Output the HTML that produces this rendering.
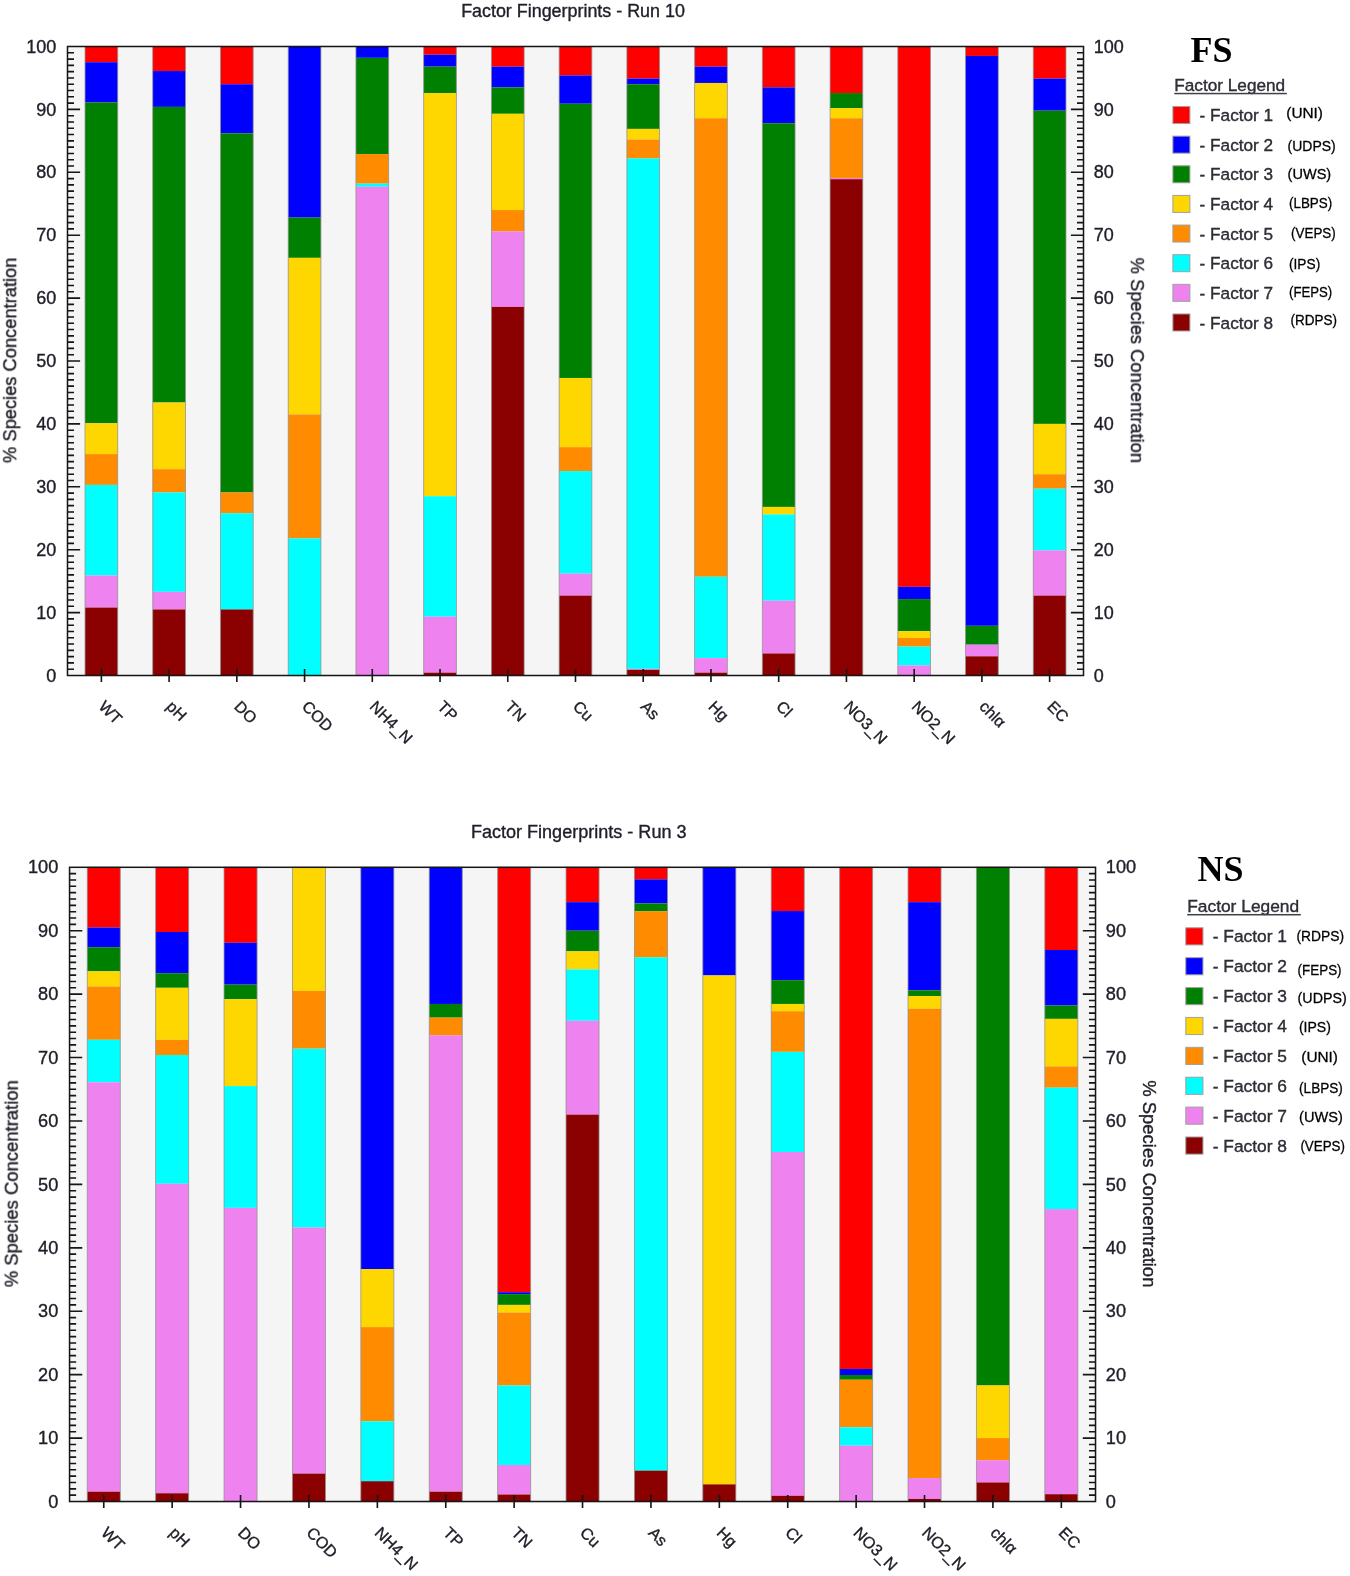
<!DOCTYPE html>
<html><head><meta charset="utf-8"><title>Factor Fingerprints</title>
<style>
html,body{margin:0;padding:0;background:#fff;}
body{width:1350px;height:1576px;overflow:hidden;font-family:"Liberation Sans",sans-serif;}
svg{display:block;}
svg text{font-family:"Liberation Sans",sans-serif;fill:#20202a;stroke:#20202a;stroke-width:0.35px;}
</style></head>
<body>
<svg width="1350" height="1576" viewBox="0 0 1350 1576">
<rect width="1350" height="1576" fill="#ffffff"/>
<defs><filter id="soft" x="0" y="0" width="1350" height="1576" filterUnits="userSpaceOnUse"><feGaussianBlur stdDeviation="0.5"/></filter></defs>
<g filter="url(#soft)">
<g id="chart-fs">
<rect x="67.5" y="46.5" width="1016" height="629" fill="#F5F5F5"/>
<rect x="85.02" y="46.5" width="32.7" height="15.73" fill="#FF0000"/>
<rect x="85.02" y="62.23" width="32.7" height="40.26" fill="#0000FF"/>
<rect x="85.02" y="102.48" width="32.7" height="320.79" fill="#008000"/>
<rect x="85.02" y="423.27" width="32.7" height="30.82" fill="#FFD700"/>
<rect x="85.02" y="454.09" width="32.7" height="30.82" fill="#FF8C00"/>
<rect x="85.02" y="484.91" width="32.7" height="90.58" fill="#00FFFF"/>
<rect x="85.02" y="575.49" width="32.7" height="32.08" fill="#EE82EE"/>
<rect x="85.02" y="607.57" width="32.7" height="67.93" fill="#8B0000"/>
<rect x="85.02" y="46.5" width="32.7" height="629" fill="none" stroke="#909090" stroke-width="0.9" stroke-opacity="0.85"/>
<rect x="152.75" y="46.5" width="32.7" height="24.53" fill="#FF0000"/>
<rect x="152.75" y="71.03" width="32.7" height="35.85" fill="#0000FF"/>
<rect x="152.75" y="106.88" width="32.7" height="295.63" fill="#008000"/>
<rect x="152.75" y="402.51" width="32.7" height="66.67" fill="#FFD700"/>
<rect x="152.75" y="469.19" width="32.7" height="23.27" fill="#FF8C00"/>
<rect x="152.75" y="492.46" width="32.7" height="99.38" fill="#00FFFF"/>
<rect x="152.75" y="591.84" width="32.7" height="17.61" fill="#EE82EE"/>
<rect x="152.75" y="609.46" width="32.7" height="66.04" fill="#8B0000"/>
<rect x="152.75" y="46.5" width="32.7" height="629" fill="none" stroke="#909090" stroke-width="0.9" stroke-opacity="0.85"/>
<rect x="220.48" y="46.5" width="32.7" height="37.74" fill="#FF0000"/>
<rect x="220.48" y="84.24" width="32.7" height="49.06" fill="#0000FF"/>
<rect x="220.48" y="133.3" width="32.7" height="359.16" fill="#008000"/>
<rect x="220.48" y="492.46" width="32.7" height="20.76" fill="#FF8C00"/>
<rect x="220.48" y="513.22" width="32.7" height="96.24" fill="#00FFFF"/>
<rect x="220.48" y="609.46" width="32.7" height="66.04" fill="#8B0000"/>
<rect x="220.48" y="46.5" width="32.7" height="629" fill="none" stroke="#909090" stroke-width="0.9" stroke-opacity="0.85"/>
<rect x="288.22" y="46.5" width="32.7" height="171.09" fill="#0000FF"/>
<rect x="288.22" y="217.59" width="32.7" height="40.26" fill="#008000"/>
<rect x="288.22" y="257.84" width="32.7" height="156.62" fill="#FFD700"/>
<rect x="288.22" y="414.46" width="32.7" height="123.91" fill="#FF8C00"/>
<rect x="288.22" y="538.38" width="32.7" height="137.12" fill="#00FFFF"/>
<rect x="288.22" y="46.5" width="32.7" height="629" fill="none" stroke="#909090" stroke-width="0.9" stroke-opacity="0.85"/>
<rect x="355.95" y="46.5" width="32.7" height="11.32" fill="#0000FF"/>
<rect x="355.95" y="57.82" width="32.7" height="96.24" fill="#008000"/>
<rect x="355.95" y="154.06" width="32.7" height="29.56" fill="#FF8C00"/>
<rect x="355.95" y="183.62" width="32.7" height="3.15" fill="#00FFFF"/>
<rect x="355.95" y="186.77" width="32.7" height="488.73" fill="#EE82EE"/>
<rect x="355.95" y="46.5" width="32.7" height="629" fill="none" stroke="#909090" stroke-width="0.9" stroke-opacity="0.85"/>
<rect x="423.68" y="46.5" width="32.7" height="8.18" fill="#FF0000"/>
<rect x="423.68" y="54.68" width="32.7" height="11.95" fill="#0000FF"/>
<rect x="423.68" y="66.63" width="32.7" height="26.42" fill="#008000"/>
<rect x="423.68" y="93.05" width="32.7" height="403.19" fill="#FFD700"/>
<rect x="423.68" y="496.24" width="32.7" height="120.45" fill="#00FFFF"/>
<rect x="423.68" y="616.69" width="32.7" height="55.98" fill="#EE82EE"/>
<rect x="423.68" y="672.67" width="32.7" height="2.83" fill="#8B0000"/>
<rect x="423.68" y="46.5" width="32.7" height="629" fill="none" stroke="#909090" stroke-width="0.9" stroke-opacity="0.85"/>
<rect x="491.42" y="46.5" width="32.7" height="20.13" fill="#FF0000"/>
<rect x="491.42" y="66.63" width="32.7" height="20.76" fill="#0000FF"/>
<rect x="491.42" y="87.38" width="32.7" height="26.42" fill="#008000"/>
<rect x="491.42" y="113.8" width="32.7" height="96.24" fill="#FFD700"/>
<rect x="491.42" y="210.04" width="32.7" height="21.39" fill="#FF8C00"/>
<rect x="491.42" y="231.43" width="32.7" height="75.48" fill="#EE82EE"/>
<rect x="491.42" y="306.91" width="32.7" height="368.59" fill="#8B0000"/>
<rect x="491.42" y="46.5" width="32.7" height="629" fill="none" stroke="#909090" stroke-width="0.9" stroke-opacity="0.85"/>
<rect x="559.15" y="46.5" width="32.7" height="28.93" fill="#FF0000"/>
<rect x="559.15" y="75.43" width="32.7" height="28.3" fill="#0000FF"/>
<rect x="559.15" y="103.74" width="32.7" height="274.24" fill="#008000"/>
<rect x="559.15" y="377.98" width="32.7" height="69.19" fill="#FFD700"/>
<rect x="559.15" y="447.17" width="32.7" height="23.9" fill="#FF8C00"/>
<rect x="559.15" y="471.07" width="32.7" height="102.53" fill="#00FFFF"/>
<rect x="559.15" y="573.6" width="32.7" height="22.01" fill="#EE82EE"/>
<rect x="559.15" y="595.62" width="32.7" height="79.88" fill="#8B0000"/>
<rect x="559.15" y="46.5" width="32.7" height="629" fill="none" stroke="#909090" stroke-width="0.9" stroke-opacity="0.85"/>
<rect x="626.88" y="46.5" width="32.7" height="32.08" fill="#FF0000"/>
<rect x="626.88" y="78.58" width="32.7" height="5.66" fill="#0000FF"/>
<rect x="626.88" y="84.24" width="32.7" height="44.66" fill="#008000"/>
<rect x="626.88" y="128.9" width="32.7" height="10.69" fill="#FFD700"/>
<rect x="626.88" y="139.59" width="32.7" height="18.87" fill="#FF8C00"/>
<rect x="626.88" y="158.46" width="32.7" height="510.43" fill="#00FFFF"/>
<rect x="626.88" y="668.9" width="32.7" height="0.94" fill="#EE82EE"/>
<rect x="626.88" y="669.84" width="32.7" height="5.66" fill="#8B0000"/>
<rect x="626.88" y="46.5" width="32.7" height="629" fill="none" stroke="#909090" stroke-width="0.9" stroke-opacity="0.85"/>
<rect x="694.62" y="46.5" width="32.7" height="20.13" fill="#FF0000"/>
<rect x="694.62" y="66.63" width="32.7" height="16.35" fill="#0000FF"/>
<rect x="694.62" y="82.98" width="32.7" height="35.22" fill="#FFD700"/>
<rect x="694.62" y="118.21" width="32.7" height="458.54" fill="#FF8C00"/>
<rect x="694.62" y="576.75" width="32.7" height="81.39" fill="#00FFFF"/>
<rect x="694.62" y="658.14" width="32.7" height="14.53" fill="#EE82EE"/>
<rect x="694.62" y="672.67" width="32.7" height="2.83" fill="#8B0000"/>
<rect x="694.62" y="46.5" width="32.7" height="629" fill="none" stroke="#909090" stroke-width="0.9" stroke-opacity="0.85"/>
<rect x="762.35" y="46.5" width="32.7" height="40.88" fill="#FF0000"/>
<rect x="762.35" y="87.38" width="32.7" height="35.85" fill="#0000FF"/>
<rect x="762.35" y="123.24" width="32.7" height="383.69" fill="#008000"/>
<rect x="762.35" y="506.93" width="32.7" height="7.55" fill="#FFD700"/>
<rect x="762.35" y="514.48" width="32.7" height="86.17" fill="#00FFFF"/>
<rect x="762.35" y="600.65" width="32.7" height="52.84" fill="#EE82EE"/>
<rect x="762.35" y="653.49" width="32.7" height="22.01" fill="#8B0000"/>
<rect x="762.35" y="46.5" width="32.7" height="629" fill="none" stroke="#909090" stroke-width="0.9" stroke-opacity="0.85"/>
<rect x="830.08" y="46.5" width="32.7" height="46.55" fill="#FF0000"/>
<rect x="830.08" y="93.05" width="32.7" height="15.1" fill="#008000"/>
<rect x="830.08" y="108.14" width="32.7" height="10.06" fill="#FFD700"/>
<rect x="830.08" y="118.21" width="32.7" height="59.75" fill="#FF8C00"/>
<rect x="830.08" y="177.96" width="32.7" height="1.26" fill="#EE82EE"/>
<rect x="830.08" y="179.22" width="32.7" height="496.28" fill="#8B0000"/>
<rect x="830.08" y="46.5" width="32.7" height="629" fill="none" stroke="#909090" stroke-width="0.9" stroke-opacity="0.85"/>
<rect x="897.82" y="46.5" width="32.7" height="540.31" fill="#FF0000"/>
<rect x="897.82" y="586.81" width="32.7" height="12.27" fill="#0000FF"/>
<rect x="897.82" y="599.08" width="32.7" height="32.08" fill="#008000"/>
<rect x="897.82" y="631.16" width="32.7" height="6.79" fill="#FFD700"/>
<rect x="897.82" y="637.95" width="32.7" height="8.62" fill="#FF8C00"/>
<rect x="897.82" y="646.57" width="32.7" height="18.87" fill="#00FFFF"/>
<rect x="897.82" y="665.44" width="32.7" height="10.06" fill="#EE82EE"/>
<rect x="897.82" y="46.5" width="32.7" height="629" fill="none" stroke="#909090" stroke-width="0.9" stroke-opacity="0.85"/>
<rect x="965.55" y="46.5" width="32.7" height="9.43" fill="#FF0000"/>
<rect x="965.55" y="55.93" width="32.7" height="569.87" fill="#0000FF"/>
<rect x="965.55" y="625.81" width="32.7" height="18.87" fill="#008000"/>
<rect x="965.55" y="644.68" width="32.7" height="11.64" fill="#EE82EE"/>
<rect x="965.55" y="656.32" width="32.7" height="19.18" fill="#8B0000"/>
<rect x="965.55" y="46.5" width="32.7" height="629" fill="none" stroke="#909090" stroke-width="0.9" stroke-opacity="0.85"/>
<rect x="1033.28" y="46.5" width="32.7" height="32.08" fill="#FF0000"/>
<rect x="1033.28" y="78.58" width="32.7" height="32.08" fill="#0000FF"/>
<rect x="1033.28" y="110.66" width="32.7" height="313.24" fill="#008000"/>
<rect x="1033.28" y="423.9" width="32.7" height="50.32" fill="#FFD700"/>
<rect x="1033.28" y="474.22" width="32.7" height="14.47" fill="#FF8C00"/>
<rect x="1033.28" y="488.69" width="32.7" height="61.64" fill="#00FFFF"/>
<rect x="1033.28" y="550.33" width="32.7" height="45.29" fill="#EE82EE"/>
<rect x="1033.28" y="595.62" width="32.7" height="79.88" fill="#8B0000"/>
<rect x="1033.28" y="46.5" width="32.7" height="629" fill="none" stroke="#909090" stroke-width="0.9" stroke-opacity="0.85"/>
<path d="M67.5 669.21h6.5M1083.5 669.21h-6.5M67.5 662.92h6.5M1083.5 662.92h-6.5M67.5 656.63h6.5M1083.5 656.63h-6.5M67.5 650.34h6.5M1083.5 650.34h-6.5M67.5 644.05h6.5M1083.5 644.05h-6.5M67.5 637.76h6.5M1083.5 637.76h-6.5M67.5 631.47h6.5M1083.5 631.47h-6.5M67.5 625.18h6.5M1083.5 625.18h-6.5M67.5 618.89h6.5M1083.5 618.89h-6.5M67.5 612.6h12.6M1083.5 612.6h-12.6M67.5 606.31h6.5M1083.5 606.31h-6.5M67.5 600.02h6.5M1083.5 600.02h-6.5M67.5 593.73h6.5M1083.5 593.73h-6.5M67.5 587.44h6.5M1083.5 587.44h-6.5M67.5 581.15h6.5M1083.5 581.15h-6.5M67.5 574.86h6.5M1083.5 574.86h-6.5M67.5 568.57h6.5M1083.5 568.57h-6.5M67.5 562.28h6.5M1083.5 562.28h-6.5M67.5 555.99h6.5M1083.5 555.99h-6.5M67.5 549.7h12.6M1083.5 549.7h-12.6M67.5 543.41h6.5M1083.5 543.41h-6.5M67.5 537.12h6.5M1083.5 537.12h-6.5M67.5 530.83h6.5M1083.5 530.83h-6.5M67.5 524.54h6.5M1083.5 524.54h-6.5M67.5 518.25h6.5M1083.5 518.25h-6.5M67.5 511.96h6.5M1083.5 511.96h-6.5M67.5 505.67h6.5M1083.5 505.67h-6.5M67.5 499.38h6.5M1083.5 499.38h-6.5M67.5 493.09h6.5M1083.5 493.09h-6.5M67.5 486.8h12.6M1083.5 486.8h-12.6M67.5 480.51h6.5M1083.5 480.51h-6.5M67.5 474.22h6.5M1083.5 474.22h-6.5M67.5 467.93h6.5M1083.5 467.93h-6.5M67.5 461.64h6.5M1083.5 461.64h-6.5M67.5 455.35h6.5M1083.5 455.35h-6.5M67.5 449.06h6.5M1083.5 449.06h-6.5M67.5 442.77h6.5M1083.5 442.77h-6.5M67.5 436.48h6.5M1083.5 436.48h-6.5M67.5 430.19h6.5M1083.5 430.19h-6.5M67.5 423.9h12.6M1083.5 423.9h-12.6M67.5 417.61h6.5M1083.5 417.61h-6.5M67.5 411.32h6.5M1083.5 411.32h-6.5M67.5 405.03h6.5M1083.5 405.03h-6.5M67.5 398.74h6.5M1083.5 398.74h-6.5M67.5 392.45h6.5M1083.5 392.45h-6.5M67.5 386.16h6.5M1083.5 386.16h-6.5M67.5 379.87h6.5M1083.5 379.87h-6.5M67.5 373.58h6.5M1083.5 373.58h-6.5M67.5 367.29h6.5M1083.5 367.29h-6.5M67.5 361h12.6M1083.5 361h-12.6M67.5 354.71h6.5M1083.5 354.71h-6.5M67.5 348.42h6.5M1083.5 348.42h-6.5M67.5 342.13h6.5M1083.5 342.13h-6.5M67.5 335.84h6.5M1083.5 335.84h-6.5M67.5 329.55h6.5M1083.5 329.55h-6.5M67.5 323.26h6.5M1083.5 323.26h-6.5M67.5 316.97h6.5M1083.5 316.97h-6.5M67.5 310.68h6.5M1083.5 310.68h-6.5M67.5 304.39h6.5M1083.5 304.39h-6.5M67.5 298.1h12.6M1083.5 298.1h-12.6M67.5 291.81h6.5M1083.5 291.81h-6.5M67.5 285.52h6.5M1083.5 285.52h-6.5M67.5 279.23h6.5M1083.5 279.23h-6.5M67.5 272.94h6.5M1083.5 272.94h-6.5M67.5 266.65h6.5M1083.5 266.65h-6.5M67.5 260.36h6.5M1083.5 260.36h-6.5M67.5 254.07h6.5M1083.5 254.07h-6.5M67.5 247.78h6.5M1083.5 247.78h-6.5M67.5 241.49h6.5M1083.5 241.49h-6.5M67.5 235.2h12.6M1083.5 235.2h-12.6M67.5 228.91h6.5M1083.5 228.91h-6.5M67.5 222.62h6.5M1083.5 222.62h-6.5M67.5 216.33h6.5M1083.5 216.33h-6.5M67.5 210.04h6.5M1083.5 210.04h-6.5M67.5 203.75h6.5M1083.5 203.75h-6.5M67.5 197.46h6.5M1083.5 197.46h-6.5M67.5 191.17h6.5M1083.5 191.17h-6.5M67.5 184.88h6.5M1083.5 184.88h-6.5M67.5 178.59h6.5M1083.5 178.59h-6.5M67.5 172.3h12.6M1083.5 172.3h-12.6M67.5 166.01h6.5M1083.5 166.01h-6.5M67.5 159.72h6.5M1083.5 159.72h-6.5M67.5 153.43h6.5M1083.5 153.43h-6.5M67.5 147.14h6.5M1083.5 147.14h-6.5M67.5 140.85h6.5M1083.5 140.85h-6.5M67.5 134.56h6.5M1083.5 134.56h-6.5M67.5 128.27h6.5M1083.5 128.27h-6.5M67.5 121.98h6.5M1083.5 121.98h-6.5M67.5 115.69h6.5M1083.5 115.69h-6.5M67.5 109.4h12.6M1083.5 109.4h-12.6M67.5 103.11h6.5M1083.5 103.11h-6.5M67.5 96.82h6.5M1083.5 96.82h-6.5M67.5 90.53h6.5M1083.5 90.53h-6.5M67.5 84.24h6.5M1083.5 84.24h-6.5M67.5 77.95h6.5M1083.5 77.95h-6.5M67.5 71.66h6.5M1083.5 71.66h-6.5M67.5 65.37h6.5M1083.5 65.37h-6.5M67.5 59.08h6.5M1083.5 59.08h-6.5M67.5 52.79h6.5M1083.5 52.79h-6.5M101.37 669v13M169.1 669v13M236.83 669v13M304.57 669v13M372.3 669v13M440.03 669v13M507.77 669v13M575.5 669v13M643.23 669v13M710.97 669v13M778.7 669v13M846.43 669v13M914.17 669v13M981.9 669v13M1049.63 669v13" stroke="#141414" stroke-width="1.6" fill="none"/>
<rect x="67.5" y="46.5" width="1016" height="629" fill="none" stroke="#141414" stroke-width="1.5"/>
<text x="56.3" y="681.64" font-size="18" text-anchor="end">0</text>
<text x="1093.7" y="681.64" font-size="18">0</text>
<text x="56.3" y="618.74" font-size="18" text-anchor="end">10</text>
<text x="1093.7" y="618.74" font-size="18">10</text>
<text x="56.3" y="555.84" font-size="18" text-anchor="end">20</text>
<text x="1093.7" y="555.84" font-size="18">20</text>
<text x="56.3" y="492.94" font-size="18" text-anchor="end">30</text>
<text x="1093.7" y="492.94" font-size="18">30</text>
<text x="56.3" y="430.04" font-size="18" text-anchor="end">40</text>
<text x="1093.7" y="430.04" font-size="18">40</text>
<text x="56.3" y="367.14" font-size="18" text-anchor="end">50</text>
<text x="1093.7" y="367.14" font-size="18">50</text>
<text x="56.3" y="304.24" font-size="18" text-anchor="end">60</text>
<text x="1093.7" y="304.24" font-size="18">60</text>
<text x="56.3" y="241.34" font-size="18" text-anchor="end">70</text>
<text x="1093.7" y="241.34" font-size="18">70</text>
<text x="56.3" y="178.44" font-size="18" text-anchor="end">80</text>
<text x="1093.7" y="178.44" font-size="18">80</text>
<text x="56.3" y="115.54" font-size="18" text-anchor="end">90</text>
<text x="1093.7" y="115.54" font-size="18">90</text>
<text x="56.3" y="52.64" font-size="18" text-anchor="end">100</text>
<text x="1093.7" y="52.64" font-size="18">100</text>
<text x="573" y="17.2" font-size="17.9" text-anchor="middle">Factor Fingerprints - Run 10</text>
<text transform="translate(16.2,360.3) rotate(-90)" font-size="18.3" text-anchor="middle">% Species Concentration</text>
<text transform="translate(1130.9,360.4) rotate(90)" font-size="18.3" text-anchor="middle">% Species Concentration</text>
<text transform="translate(97.87,707.5) rotate(45)" font-size="16">WT</text>
<text transform="translate(165.6,707.5) rotate(45)" font-size="16">pH</text>
<text transform="translate(233.33,707.5) rotate(45)" font-size="16">DO</text>
<text transform="translate(301.07,707.5) rotate(45)" font-size="16">COD</text>
<text transform="translate(368.8,707.5) rotate(45)" font-size="16">NH4_N</text>
<text transform="translate(436.53,707.5) rotate(45)" font-size="16">TP</text>
<text transform="translate(504.27,707.5) rotate(45)" font-size="16">TN</text>
<text transform="translate(572,707.5) rotate(45)" font-size="16">Cu</text>
<text transform="translate(639.73,707.5) rotate(45)" font-size="16">As</text>
<text transform="translate(707.47,707.5) rotate(45)" font-size="16">Hg</text>
<text transform="translate(775.2,707.5) rotate(45)" font-size="16">Cl</text>
<text transform="translate(842.93,707.5) rotate(45)" font-size="16">NO3_N</text>
<text transform="translate(910.67,707.5) rotate(45)" font-size="16">NO2_N</text>
<text transform="translate(978.4,707.5) rotate(45)" font-size="16">chlα</text>
<text transform="translate(1046.13,707.5) rotate(45)" font-size="16">EC</text>
<text x="1174.3" y="91.1" font-size="17.2" style="fill:#303038">Factor Legend</text>
<rect x="1174.3" y="92.8" width="112.5" height="1.5" fill="#404048"/>
<rect x="1172.9" y="106.5" width="17" height="17" fill="#FF0000" stroke="#a0a0a0" stroke-width="1"/>
<text x="1199.6" y="121.05" font-size="17.2" style="white-space:pre;fill:#303038">- Factor 1</text>
<rect x="1172.9" y="136.14" width="17" height="17" fill="#0000FF" stroke="#a0a0a0" stroke-width="1"/>
<text x="1199.6" y="150.69" font-size="17.2" style="white-space:pre;fill:#303038">- Factor 2</text>
<rect x="1172.9" y="165.78" width="17" height="17" fill="#008000" stroke="#a0a0a0" stroke-width="1"/>
<text x="1199.6" y="180.33" font-size="17.2" style="white-space:pre;fill:#303038">- Factor 3</text>
<rect x="1172.9" y="195.42" width="17" height="17" fill="#FFD700" stroke="#a0a0a0" stroke-width="1"/>
<text x="1199.6" y="209.97" font-size="17.2" style="white-space:pre;fill:#303038">- Factor 4</text>
<rect x="1172.9" y="225.06" width="17" height="17" fill="#FF8C00" stroke="#a0a0a0" stroke-width="1"/>
<text x="1199.6" y="239.61" font-size="17.2" style="white-space:pre;fill:#303038">- Factor 5</text>
<rect x="1172.9" y="254.7" width="17" height="17" fill="#00FFFF" stroke="#a0a0a0" stroke-width="1"/>
<text x="1199.6" y="269.25" font-size="17.2" style="white-space:pre;fill:#303038">- Factor 6</text>
<rect x="1172.9" y="284.34" width="17" height="17" fill="#EE82EE" stroke="#a0a0a0" stroke-width="1"/>
<text x="1199.6" y="298.89" font-size="17.2" style="white-space:pre;fill:#303038">- Factor 7</text>
<rect x="1172.9" y="313.98" width="17" height="17" fill="#8B0000" stroke="#a0a0a0" stroke-width="1"/>
<text x="1199.6" y="328.53" font-size="17.2" style="white-space:pre;fill:#303038">- Factor 8</text>
</g>
<g id="chart-ns">
<rect x="69.56" y="867.29" width="1025.96" height="634.22" fill="#F5F5F5"/>
<rect x="87.25" y="867.29" width="33.02" height="60.25" fill="#FF0000"/>
<rect x="87.25" y="927.54" width="33.02" height="19.66" fill="#0000FF"/>
<rect x="87.25" y="947.2" width="33.02" height="24.1" fill="#008000"/>
<rect x="87.25" y="971.3" width="33.02" height="15.22" fill="#FFD700"/>
<rect x="87.25" y="986.52" width="33.02" height="53.27" fill="#FF8C00"/>
<rect x="87.25" y="1039.79" width="33.02" height="42.49" fill="#00FFFF"/>
<rect x="87.25" y="1082.29" width="33.02" height="409.39" fill="#EE82EE"/>
<rect x="87.25" y="1491.68" width="33.02" height="9.83" fill="#8B0000"/>
<rect x="87.25" y="867.29" width="33.02" height="634.22" fill="none" stroke="#909090" stroke-width="0.9" stroke-opacity="0.85"/>
<rect x="155.65" y="867.29" width="33.02" height="64.69" fill="#FF0000"/>
<rect x="155.65" y="931.98" width="33.02" height="41.22" fill="#0000FF"/>
<rect x="155.65" y="973.2" width="33.02" height="14.59" fill="#008000"/>
<rect x="155.65" y="987.79" width="33.02" height="52.01" fill="#FFD700"/>
<rect x="155.65" y="1039.79" width="33.02" height="15.22" fill="#FF8C00"/>
<rect x="155.65" y="1055.02" width="33.02" height="128.75" fill="#00FFFF"/>
<rect x="155.65" y="1183.76" width="33.02" height="309.5" fill="#EE82EE"/>
<rect x="155.65" y="1493.26" width="33.02" height="8.24" fill="#8B0000"/>
<rect x="155.65" y="867.29" width="33.02" height="634.22" fill="none" stroke="#909090" stroke-width="0.9" stroke-opacity="0.85"/>
<rect x="224.04" y="867.29" width="33.02" height="75.47" fill="#FF0000"/>
<rect x="224.04" y="942.76" width="33.02" height="41.86" fill="#0000FF"/>
<rect x="224.04" y="984.62" width="33.02" height="14.59" fill="#008000"/>
<rect x="224.04" y="999.2" width="33.02" height="86.89" fill="#FFD700"/>
<rect x="224.04" y="1086.09" width="33.02" height="121.77" fill="#00FFFF"/>
<rect x="224.04" y="1207.86" width="33.02" height="293.64" fill="#EE82EE"/>
<rect x="224.04" y="867.29" width="33.02" height="634.22" fill="none" stroke="#909090" stroke-width="0.9" stroke-opacity="0.85"/>
<rect x="292.44" y="867.29" width="33.02" height="123.67" fill="#FFD700"/>
<rect x="292.44" y="990.96" width="33.02" height="57.71" fill="#FF8C00"/>
<rect x="292.44" y="1048.67" width="33.02" height="178.85" fill="#00FFFF"/>
<rect x="292.44" y="1227.52" width="33.02" height="246.08" fill="#EE82EE"/>
<rect x="292.44" y="1473.6" width="33.02" height="27.91" fill="#8B0000"/>
<rect x="292.44" y="867.29" width="33.02" height="634.22" fill="none" stroke="#909090" stroke-width="0.9" stroke-opacity="0.85"/>
<rect x="360.84" y="867.29" width="33.02" height="401.78" fill="#0000FF"/>
<rect x="360.84" y="1269.06" width="33.02" height="58.03" fill="#FFD700"/>
<rect x="360.84" y="1327.1" width="33.02" height="94.18" fill="#FF8C00"/>
<rect x="360.84" y="1421.28" width="33.02" height="59.93" fill="#00FFFF"/>
<rect x="360.84" y="1481.21" width="33.02" height="20.3" fill="#8B0000"/>
<rect x="360.84" y="867.29" width="33.02" height="634.22" fill="none" stroke="#909090" stroke-width="0.9" stroke-opacity="0.85"/>
<rect x="429.24" y="867.29" width="33.02" height="136.67" fill="#0000FF"/>
<rect x="429.24" y="1003.96" width="33.02" height="13.64" fill="#008000"/>
<rect x="429.24" y="1017.6" width="33.02" height="17.76" fill="#FF8C00"/>
<rect x="429.24" y="1035.35" width="33.02" height="456.32" fill="#EE82EE"/>
<rect x="429.24" y="1491.68" width="33.02" height="9.83" fill="#8B0000"/>
<rect x="429.24" y="867.29" width="33.02" height="634.22" fill="none" stroke="#909090" stroke-width="0.9" stroke-opacity="0.85"/>
<rect x="497.63" y="867.29" width="33.02" height="424.93" fill="#FF0000"/>
<rect x="497.63" y="1292.21" width="33.02" height="1.9" fill="#0000FF"/>
<rect x="497.63" y="1294.12" width="33.02" height="10.78" fill="#008000"/>
<rect x="497.63" y="1304.9" width="33.02" height="7.61" fill="#FFD700"/>
<rect x="497.63" y="1312.51" width="33.02" height="72.94" fill="#FF8C00"/>
<rect x="497.63" y="1385.44" width="33.02" height="79.53" fill="#00FFFF"/>
<rect x="497.63" y="1464.98" width="33.02" height="29.55" fill="#EE82EE"/>
<rect x="497.63" y="1494.53" width="33.02" height="6.98" fill="#8B0000"/>
<rect x="497.63" y="867.29" width="33.02" height="634.22" fill="none" stroke="#909090" stroke-width="0.9" stroke-opacity="0.85"/>
<rect x="566.03" y="867.29" width="33.02" height="34.88" fill="#FF0000"/>
<rect x="566.03" y="902.17" width="33.02" height="28.54" fill="#0000FF"/>
<rect x="566.03" y="930.71" width="33.02" height="20.61" fill="#008000"/>
<rect x="566.03" y="951.32" width="33.02" height="18.08" fill="#FFD700"/>
<rect x="566.03" y="969.4" width="33.02" height="51.37" fill="#00FFFF"/>
<rect x="566.03" y="1020.77" width="33.02" height="93.86" fill="#EE82EE"/>
<rect x="566.03" y="1114.63" width="33.02" height="386.87" fill="#8B0000"/>
<rect x="566.03" y="867.29" width="33.02" height="634.22" fill="none" stroke="#909090" stroke-width="0.9" stroke-opacity="0.85"/>
<rect x="634.43" y="867.29" width="33.02" height="12.05" fill="#FF0000"/>
<rect x="634.43" y="879.34" width="33.02" height="24.1" fill="#0000FF"/>
<rect x="634.43" y="903.44" width="33.02" height="7.93" fill="#008000"/>
<rect x="634.43" y="911.36" width="33.02" height="45.98" fill="#FF8C00"/>
<rect x="634.43" y="957.35" width="33.02" height="513.27" fill="#00FFFF"/>
<rect x="634.43" y="1470.62" width="33.02" height="30.89" fill="#8B0000"/>
<rect x="634.43" y="867.29" width="33.02" height="634.22" fill="none" stroke="#909090" stroke-width="0.9" stroke-opacity="0.85"/>
<rect x="702.82" y="867.29" width="33.02" height="108.13" fill="#0000FF"/>
<rect x="702.82" y="975.42" width="33.02" height="508.96" fill="#FFD700"/>
<rect x="702.82" y="1484.38" width="33.02" height="17.12" fill="#8B0000"/>
<rect x="702.82" y="867.29" width="33.02" height="634.22" fill="none" stroke="#909090" stroke-width="0.9" stroke-opacity="0.85"/>
<rect x="771.22" y="867.29" width="33.02" height="43.76" fill="#FF0000"/>
<rect x="771.22" y="911.05" width="33.02" height="69.13" fill="#0000FF"/>
<rect x="771.22" y="980.18" width="33.02" height="23.78" fill="#008000"/>
<rect x="771.22" y="1003.96" width="33.02" height="7.29" fill="#FFD700"/>
<rect x="771.22" y="1011.25" width="33.02" height="40.59" fill="#FF8C00"/>
<rect x="771.22" y="1051.84" width="33.02" height="100.21" fill="#00FFFF"/>
<rect x="771.22" y="1152.05" width="33.02" height="343.75" fill="#EE82EE"/>
<rect x="771.22" y="1495.8" width="33.02" height="5.71" fill="#8B0000"/>
<rect x="771.22" y="867.29" width="33.02" height="634.22" fill="none" stroke="#909090" stroke-width="0.9" stroke-opacity="0.85"/>
<rect x="839.62" y="867.29" width="33.02" height="501.67" fill="#FF0000"/>
<rect x="839.62" y="1368.95" width="33.02" height="6.03" fill="#0000FF"/>
<rect x="839.62" y="1374.98" width="33.02" height="4.76" fill="#008000"/>
<rect x="839.62" y="1379.74" width="33.02" height="47.57" fill="#FF8C00"/>
<rect x="839.62" y="1427.3" width="33.02" height="18.39" fill="#00FFFF"/>
<rect x="839.62" y="1445.7" width="33.02" height="55.81" fill="#EE82EE"/>
<rect x="839.62" y="867.29" width="33.02" height="634.22" fill="none" stroke="#909090" stroke-width="0.9" stroke-opacity="0.85"/>
<rect x="908.02" y="867.29" width="33.02" height="34.88" fill="#FF0000"/>
<rect x="908.02" y="902.17" width="33.02" height="88.16" fill="#0000FF"/>
<rect x="908.02" y="990.32" width="33.02" height="5.71" fill="#008000"/>
<rect x="908.02" y="996.03" width="33.02" height="12.68" fill="#FFD700"/>
<rect x="908.02" y="1008.72" width="33.02" height="469.32" fill="#FF8C00"/>
<rect x="908.02" y="1478.04" width="33.02" height="20.93" fill="#EE82EE"/>
<rect x="908.02" y="1498.97" width="33.02" height="2.54" fill="#8B0000"/>
<rect x="908.02" y="867.29" width="33.02" height="634.22" fill="none" stroke="#909090" stroke-width="0.9" stroke-opacity="0.85"/>
<rect x="976.41" y="867.29" width="33.02" height="518.16" fill="#008000"/>
<rect x="976.41" y="1385.44" width="33.02" height="52.64" fill="#FFD700"/>
<rect x="976.41" y="1438.08" width="33.02" height="22.2" fill="#FF8C00"/>
<rect x="976.41" y="1460.28" width="33.02" height="22.2" fill="#EE82EE"/>
<rect x="976.41" y="1482.48" width="33.02" height="19.03" fill="#8B0000"/>
<rect x="976.41" y="867.29" width="33.02" height="634.22" fill="none" stroke="#909090" stroke-width="0.9" stroke-opacity="0.85"/>
<rect x="1044.81" y="867.29" width="33.02" height="82.7" fill="#FF0000"/>
<rect x="1044.81" y="949.99" width="33.02" height="55.56" fill="#0000FF"/>
<rect x="1044.81" y="1005.55" width="33.02" height="13.32" fill="#008000"/>
<rect x="1044.81" y="1018.86" width="33.02" height="47.57" fill="#FFD700"/>
<rect x="1044.81" y="1066.43" width="33.02" height="21.25" fill="#FF8C00"/>
<rect x="1044.81" y="1087.68" width="33.02" height="121.45" fill="#00FFFF"/>
<rect x="1044.81" y="1209.13" width="33.02" height="285.08" fill="#EE82EE"/>
<rect x="1044.81" y="1494.21" width="33.02" height="7.29" fill="#8B0000"/>
<rect x="1044.81" y="867.29" width="33.02" height="634.22" fill="none" stroke="#909090" stroke-width="0.9" stroke-opacity="0.85"/>
<path d="M69.56 1495.16h6.56M1095.52 1495.16h-6.56M69.56 1488.82h6.56M1095.52 1488.82h-6.56M69.56 1482.48h6.56M1095.52 1482.48h-6.56M69.56 1476.14h6.56M1095.52 1476.14h-6.56M69.56 1469.8h6.56M1095.52 1469.8h-6.56M69.56 1463.45h6.56M1095.52 1463.45h-6.56M69.56 1457.11h6.56M1095.52 1457.11h-6.56M69.56 1450.77h6.56M1095.52 1450.77h-6.56M69.56 1444.43h6.56M1095.52 1444.43h-6.56M69.56 1438.08h12.72M1095.52 1438.08h-12.72M69.56 1431.74h6.56M1095.52 1431.74h-6.56M69.56 1425.4h6.56M1095.52 1425.4h-6.56M69.56 1419.06h6.56M1095.52 1419.06h-6.56M69.56 1412.72h6.56M1095.52 1412.72h-6.56M69.56 1406.37h6.56M1095.52 1406.37h-6.56M69.56 1400.03h6.56M1095.52 1400.03h-6.56M69.56 1393.69h6.56M1095.52 1393.69h-6.56M69.56 1387.35h6.56M1095.52 1387.35h-6.56M69.56 1381h6.56M1095.52 1381h-6.56M69.56 1374.66h12.72M1095.52 1374.66h-12.72M69.56 1368.32h6.56M1095.52 1368.32h-6.56M69.56 1361.98h6.56M1095.52 1361.98h-6.56M69.56 1355.64h6.56M1095.52 1355.64h-6.56M69.56 1349.29h6.56M1095.52 1349.29h-6.56M69.56 1342.95h6.56M1095.52 1342.95h-6.56M69.56 1336.61h6.56M1095.52 1336.61h-6.56M69.56 1330.27h6.56M1095.52 1330.27h-6.56M69.56 1323.92h6.56M1095.52 1323.92h-6.56M69.56 1317.58h6.56M1095.52 1317.58h-6.56M69.56 1311.24h12.72M1095.52 1311.24h-12.72M69.56 1304.9h6.56M1095.52 1304.9h-6.56M69.56 1298.56h6.56M1095.52 1298.56h-6.56M69.56 1292.21h6.56M1095.52 1292.21h-6.56M69.56 1285.87h6.56M1095.52 1285.87h-6.56M69.56 1279.53h6.56M1095.52 1279.53h-6.56M69.56 1273.19h6.56M1095.52 1273.19h-6.56M69.56 1266.84h6.56M1095.52 1266.84h-6.56M69.56 1260.5h6.56M1095.52 1260.5h-6.56M69.56 1254.16h6.56M1095.52 1254.16h-6.56M69.56 1247.82h12.72M1095.52 1247.82h-12.72M69.56 1241.48h6.56M1095.52 1241.48h-6.56M69.56 1235.13h6.56M1095.52 1235.13h-6.56M69.56 1228.79h6.56M1095.52 1228.79h-6.56M69.56 1222.45h6.56M1095.52 1222.45h-6.56M69.56 1216.11h6.56M1095.52 1216.11h-6.56M69.56 1209.77h6.56M1095.52 1209.77h-6.56M69.56 1203.42h6.56M1095.52 1203.42h-6.56M69.56 1197.08h6.56M1095.52 1197.08h-6.56M69.56 1190.74h6.56M1095.52 1190.74h-6.56M69.56 1184.4h12.72M1095.52 1184.4h-12.72M69.56 1178.05h6.56M1095.52 1178.05h-6.56M69.56 1171.71h6.56M1095.52 1171.71h-6.56M69.56 1165.37h6.56M1095.52 1165.37h-6.56M69.56 1159.03h6.56M1095.52 1159.03h-6.56M69.56 1152.69h6.56M1095.52 1152.69h-6.56M69.56 1146.34h6.56M1095.52 1146.34h-6.56M69.56 1140h6.56M1095.52 1140h-6.56M69.56 1133.66h6.56M1095.52 1133.66h-6.56M69.56 1127.32h6.56M1095.52 1127.32h-6.56M69.56 1120.97h12.72M1095.52 1120.97h-12.72M69.56 1114.63h6.56M1095.52 1114.63h-6.56M69.56 1108.29h6.56M1095.52 1108.29h-6.56M69.56 1101.95h6.56M1095.52 1101.95h-6.56M69.56 1095.61h6.56M1095.52 1095.61h-6.56M69.56 1089.26h6.56M1095.52 1089.26h-6.56M69.56 1082.92h6.56M1095.52 1082.92h-6.56M69.56 1076.58h6.56M1095.52 1076.58h-6.56M69.56 1070.24h6.56M1095.52 1070.24h-6.56M69.56 1063.89h6.56M1095.52 1063.89h-6.56M69.56 1057.55h12.72M1095.52 1057.55h-12.72M69.56 1051.21h6.56M1095.52 1051.21h-6.56M69.56 1044.87h6.56M1095.52 1044.87h-6.56M69.56 1038.53h6.56M1095.52 1038.53h-6.56M69.56 1032.18h6.56M1095.52 1032.18h-6.56M69.56 1025.84h6.56M1095.52 1025.84h-6.56M69.56 1019.5h6.56M1095.52 1019.5h-6.56M69.56 1013.16h6.56M1095.52 1013.16h-6.56M69.56 1006.81h6.56M1095.52 1006.81h-6.56M69.56 1000.47h6.56M1095.52 1000.47h-6.56M69.56 994.13h12.72M1095.52 994.13h-12.72M69.56 987.79h6.56M1095.52 987.79h-6.56M69.56 981.45h6.56M1095.52 981.45h-6.56M69.56 975.1h6.56M1095.52 975.1h-6.56M69.56 968.76h6.56M1095.52 968.76h-6.56M69.56 962.42h6.56M1095.52 962.42h-6.56M69.56 956.08h6.56M1095.52 956.08h-6.56M69.56 949.73h6.56M1095.52 949.73h-6.56M69.56 943.39h6.56M1095.52 943.39h-6.56M69.56 937.05h6.56M1095.52 937.05h-6.56M69.56 930.71h12.72M1095.52 930.71h-12.72M69.56 924.37h6.56M1095.52 924.37h-6.56M69.56 918.02h6.56M1095.52 918.02h-6.56M69.56 911.68h6.56M1095.52 911.68h-6.56M69.56 905.34h6.56M1095.52 905.34h-6.56M69.56 899h6.56M1095.52 899h-6.56M69.56 892.65h6.56M1095.52 892.65h-6.56M69.56 886.31h6.56M1095.52 886.31h-6.56M69.56 879.97h6.56M1095.52 879.97h-6.56M69.56 873.63h6.56M1095.52 873.63h-6.56M103.76 1494.95v13.11M172.16 1494.95v13.11M240.55 1494.95v13.11M308.95 1494.95v13.11M377.35 1494.95v13.11M445.75 1494.95v13.11M514.14 1494.95v13.11M582.54 1494.95v13.11M650.94 1494.95v13.11M719.33 1494.95v13.11M787.73 1494.95v13.11M856.13 1494.95v13.11M924.53 1494.95v13.11M992.92 1494.95v13.11M1061.32 1494.95v13.11" stroke="#141414" stroke-width="1.61" fill="none"/>
<rect x="69.56" y="867.29" width="1025.96" height="634.22" fill="none" stroke="#141414" stroke-width="1.51"/>
<text x="58.25" y="1507.71" font-size="18.16" text-anchor="end">0</text>
<text x="1105.82" y="1507.71" font-size="18.16">0</text>
<text x="58.25" y="1444.28" font-size="18.16" text-anchor="end">10</text>
<text x="1105.82" y="1444.28" font-size="18.16">10</text>
<text x="58.25" y="1380.86" font-size="18.16" text-anchor="end">20</text>
<text x="1105.82" y="1380.86" font-size="18.16">20</text>
<text x="58.25" y="1317.44" font-size="18.16" text-anchor="end">30</text>
<text x="1105.82" y="1317.44" font-size="18.16">30</text>
<text x="58.25" y="1254.02" font-size="18.16" text-anchor="end">40</text>
<text x="1105.82" y="1254.02" font-size="18.16">40</text>
<text x="58.25" y="1190.6" font-size="18.16" text-anchor="end">50</text>
<text x="1105.82" y="1190.6" font-size="18.16">50</text>
<text x="58.25" y="1127.17" font-size="18.16" text-anchor="end">60</text>
<text x="1105.82" y="1127.17" font-size="18.16">60</text>
<text x="58.25" y="1063.75" font-size="18.16" text-anchor="end">70</text>
<text x="1105.82" y="1063.75" font-size="18.16">70</text>
<text x="58.25" y="1000.33" font-size="18.16" text-anchor="end">80</text>
<text x="1105.82" y="1000.33" font-size="18.16">80</text>
<text x="58.25" y="936.91" font-size="18.16" text-anchor="end">90</text>
<text x="1105.82" y="936.91" font-size="18.16">90</text>
<text x="58.25" y="873.49" font-size="18.16" text-anchor="end">100</text>
<text x="1105.82" y="873.49" font-size="18.16">100</text>
<text x="578.7" y="837.74" font-size="18.06" text-anchor="middle">Factor Fingerprints - Run 3</text>
<text transform="translate(17.76,1183.69) rotate(-90)" font-size="18.47" text-anchor="middle">% Species Concentration</text>
<text transform="translate(1143.38,1183.79) rotate(90)" font-size="18.47" text-anchor="middle">% Species Concentration</text>
<text transform="translate(100.23,1533.77) rotate(45)" font-size="16.14">WT</text>
<text transform="translate(168.62,1533.77) rotate(45)" font-size="16.14">pH</text>
<text transform="translate(237.02,1533.77) rotate(45)" font-size="16.14">DO</text>
<text transform="translate(305.42,1533.77) rotate(45)" font-size="16.14">COD</text>
<text transform="translate(373.81,1533.77) rotate(45)" font-size="16.14">NH4_N</text>
<text transform="translate(442.21,1533.77) rotate(45)" font-size="16.14">TP</text>
<text transform="translate(510.61,1533.77) rotate(45)" font-size="16.14">TN</text>
<text transform="translate(579.01,1533.77) rotate(45)" font-size="16.14">Cu</text>
<text transform="translate(647.4,1533.77) rotate(45)" font-size="16.14">As</text>
<text transform="translate(715.8,1533.77) rotate(45)" font-size="16.14">Hg</text>
<text transform="translate(784.2,1533.77) rotate(45)" font-size="16.14">Cl</text>
<text transform="translate(852.59,1533.77) rotate(45)" font-size="16.14">NO3_N</text>
<text transform="translate(920.99,1533.77) rotate(45)" font-size="16.14">NO2_N</text>
<text transform="translate(989.39,1533.77) rotate(45)" font-size="16.14">chlα</text>
<text transform="translate(1057.79,1533.77) rotate(45)" font-size="16.14">EC</text>
<text x="1187.21" y="912.26" font-size="17.36" style="fill:#303038">Factor Legend</text>
<rect x="1187.21" y="913.97" width="113.6" height="1.51" fill="#404048"/>
<rect x="1185.79" y="927.78" width="17.17" height="17.14" fill="#FF0000" stroke="#a0a0a0" stroke-width="1"/>
<text x="1212.76" y="942.45" font-size="17.36" style="white-space:pre;fill:#303038">- Factor 1</text>
<rect x="1185.79" y="957.67" width="17.17" height="17.14" fill="#0000FF" stroke="#a0a0a0" stroke-width="1"/>
<text x="1212.76" y="972.34" font-size="17.36" style="white-space:pre;fill:#303038">- Factor 2</text>
<rect x="1185.79" y="987.56" width="17.17" height="17.14" fill="#008000" stroke="#a0a0a0" stroke-width="1"/>
<text x="1212.76" y="1002.23" font-size="17.36" style="white-space:pre;fill:#303038">- Factor 3</text>
<rect x="1185.79" y="1017.44" width="17.17" height="17.14" fill="#FFD700" stroke="#a0a0a0" stroke-width="1"/>
<text x="1212.76" y="1032.11" font-size="17.36" style="white-space:pre;fill:#303038">- Factor 4</text>
<rect x="1185.79" y="1047.33" width="17.17" height="17.14" fill="#FF8C00" stroke="#a0a0a0" stroke-width="1"/>
<text x="1212.76" y="1062" font-size="17.36" style="white-space:pre;fill:#303038">- Factor 5</text>
<rect x="1185.79" y="1077.21" width="17.17" height="17.14" fill="#00FFFF" stroke="#a0a0a0" stroke-width="1"/>
<text x="1212.76" y="1091.88" font-size="17.36" style="white-space:pre;fill:#303038">- Factor 6</text>
<rect x="1185.79" y="1107.1" width="17.17" height="17.14" fill="#EE82EE" stroke="#a0a0a0" stroke-width="1"/>
<text x="1212.76" y="1121.77" font-size="17.36" style="white-space:pre;fill:#303038">- Factor 7</text>
<rect x="1185.79" y="1136.99" width="17.17" height="17.14" fill="#8B0000" stroke="#a0a0a0" stroke-width="1"/>
<text x="1212.76" y="1151.66" font-size="17.36" style="white-space:pre;fill:#303038">- Factor 8</text>
</g>
</g>
<g id="annotations">
<text x="1190.6" y="61.9" style="font-family:&quot;Liberation Serif&quot;,serif;font-weight:bold;fill:#000;stroke:none" font-size="36">FS</text>
<text x="1286.3" y="118.2" font-size="15.2" style="fill:#000;stroke:#000;stroke-width:0.3px" textLength="36.7" lengthAdjust="spacingAndGlyphs">(UNI)</text>
<text x="1287.6" y="151" font-size="15.2" style="fill:#000;stroke:#000;stroke-width:0.3px" textLength="48.1" lengthAdjust="spacingAndGlyphs">(UDPS)</text>
<text x="1287.6" y="179.4" font-size="15.2" style="fill:#000;stroke:#000;stroke-width:0.3px" textLength="43.6" lengthAdjust="spacingAndGlyphs">(UWS)</text>
<text x="1289" y="208.3" font-size="15.2" style="fill:#000;stroke:#000;stroke-width:0.3px" textLength="43.2" lengthAdjust="spacingAndGlyphs">(LBPS)</text>
<text x="1291.1" y="237.5" font-size="15.2" style="fill:#000;stroke:#000;stroke-width:0.3px" textLength="44.6" lengthAdjust="spacingAndGlyphs">(VEPS)</text>
<text x="1289" y="268.5" font-size="15.2" style="fill:#000;stroke:#000;stroke-width:0.3px" textLength="31.2" lengthAdjust="spacingAndGlyphs">(IPS)</text>
<text x="1289" y="296.6" font-size="15.2" style="fill:#000;stroke:#000;stroke-width:0.3px" textLength="43.2" lengthAdjust="spacingAndGlyphs">(FEPS)</text>
<text x="1290.4" y="325.1" font-size="15.2" style="fill:#000;stroke:#000;stroke-width:0.3px" textLength="46.5" lengthAdjust="spacingAndGlyphs">(RDPS)</text>
<text x="1197.6" y="881.2" style="font-family:&quot;Liberation Serif&quot;,serif;font-weight:bold;fill:#000;stroke:none" font-size="36">NS</text>
<text x="1296.4" y="941.4" font-size="15.2" style="fill:#000;stroke:#000;stroke-width:0.3px" textLength="47.6" lengthAdjust="spacingAndGlyphs">(RDPS)</text>
<text x="1297.6" y="974.7" font-size="15.2" style="fill:#000;stroke:#000;stroke-width:0.3px" textLength="44" lengthAdjust="spacingAndGlyphs">(FEPS)</text>
<text x="1297.6" y="1003.3" font-size="15.2" style="fill:#000;stroke:#000;stroke-width:0.3px" textLength="49.1" lengthAdjust="spacingAndGlyphs">(UDPS)</text>
<text x="1298.9" y="1032" font-size="15.2" style="fill:#000;stroke:#000;stroke-width:0.3px" textLength="32" lengthAdjust="spacingAndGlyphs">(IPS)</text>
<text x="1301.3" y="1062" font-size="15.2" style="fill:#000;stroke:#000;stroke-width:0.3px" textLength="36.7" lengthAdjust="spacingAndGlyphs">(UNI)</text>
<text x="1299.1" y="1093.1" font-size="15.2" style="fill:#000;stroke:#000;stroke-width:0.3px" textLength="43.8" lengthAdjust="spacingAndGlyphs">(LBPS)</text>
<text x="1299.1" y="1122" font-size="15.2" style="fill:#000;stroke:#000;stroke-width:0.3px" textLength="43.8" lengthAdjust="spacingAndGlyphs">(UWS)</text>
<text x="1300.4" y="1151.3" font-size="15.2" style="fill:#000;stroke:#000;stroke-width:0.3px" textLength="44.5" lengthAdjust="spacingAndGlyphs">(VEPS)</text>
</g>
</svg>
</body></html>
